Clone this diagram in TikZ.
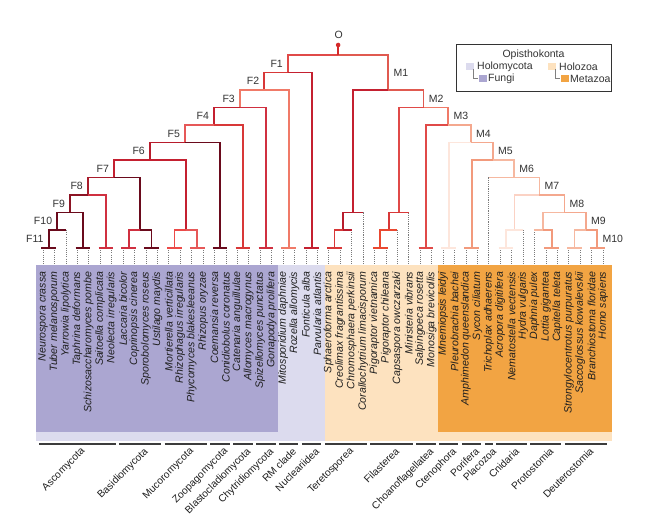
\documentclass[tikz,border=0pt]{standalone}
\usepackage{fontspec}
\setmainfont{Liberation Sans}
\usetikzlibrary{calc}
\definecolor{cFungi}{HTML}{ABA6D1}
\definecolor{cHolo}{HTML}{DCDBEE}
\definecolor{cHoloz}{HTML}{FDE2BF}
\definecolor{cMeta}{HTML}{F2A443}
\definecolor{kO}{HTML}{D42A2A}
\definecolor{k1}{HTML}{6A0A1C}
\definecolor{k2}{HTML}{8C1424}
\definecolor{k3}{HTML}{A81C2C}
\definecolor{k4}{HTML}{B81C2C}
\definecolor{k5}{HTML}{C42030}
\definecolor{k6}{HTML}{D03040}
\definecolor{k7}{HTML}{D83838}
\definecolor{k8}{HTML}{E04A48}
\definecolor{k9}{HTML}{E65858}
\definecolor{k10}{HTML}{EC4A48}
\definecolor{k11}{HTML}{F07A68}
\definecolor{k12}{HTML}{F29A7C}
\definecolor{k13}{HTML}{F4A88E}
\definecolor{k14}{HTML}{F6B8A0}
\definecolor{k15}{HTML}{FBD2C4}
\definecolor{k16}{HTML}{FDE6DC}
\definecolor{k17}{HTML}{EA4830}
\definecolor{k18}{HTML}{E05A50}
\definecolor{txt}{HTML}{1E1E1E}
\definecolor{lbl}{HTML}{333333}
\definecolor{dotc}{HTML}{7A7A7A}
\definecolor{grpc}{HTML}{3C3C3C}
\begin{document}
\begin{tikzpicture}[x=1pt,y=-1pt,
  br/.style={line width=1.8pt},
  leafdot/.style={dotc, line width=0.6pt, dash pattern=on 1.1pt off 1.1pt},
  sp/.style={rotate=90, anchor=east, inner sep=0pt, text=txt, font=\itshape\fontsize{10.6}{12}\selectfont},
  fl/.style={anchor=east, inner sep=0pt, xshift=-5pt, text=lbl, font=\fontsize{10.5}{12}\selectfont},
  ml/.style={anchor=west, inner sep=0pt, xshift=5pt, text=lbl, font=\fontsize{10.5}{12}\selectfont},
  grp/.style={rotate=45, anchor=north east, inner sep=0pt, text=txt, font=\fontsize{10.2}{12}\selectfont},
  grpline/.style={grpc, line width=2pt},
  legt/.style={inner sep=0pt, text=lbl, font=\fontsize{10.5}{12}\selectfont},
  swatch/.style={inner sep=0pt, minimum width=8pt, minimum height=7.5pt},
  brk/.style={gray, line width=0.5pt}]
\useasboundingbox (0,0) rectangle (650,526);

% background boxes
\fill[cHolo] (36,265) rectangle (325,441);
\fill[cFungi] (36,265) rectangle (278,432);
\fill[cHoloz] (325,265) rectangle (612,441);
\fill[cMeta] (438,265) rectangle (612,432);

% leaves
\foreach \i/\s in {1/Neurospora crassa, 2/Tuber melanosporum, 3/Yarrowia lipolytica,
 4/Taphrina deformans, 5/Schizosaccharomyces pombe, 6/Saitoella complicata,
 7/Neolecta irregularis, 8/Laccaria bicolor, 9/Coprinopsis cinerea,
 10/Sporobolomyces roseus, 11/Ustilago maydis, 12/Mortierella verticillata,
 13/Rhizophagus irregularis, 14/Phycomyces blakesleeanus, 15/Rhizopus oryzae,
 16/Coemansia reversa, 17/Conidiobolus coronatus, 18/Catenaria anguillulae,
 19/Allomyces macrogynus, 20/Spizellomyces punctatus, 21/Gonapodya prolifera,
 22/Mitosporidium daphniae, 23/Rozella allomycis, 24/Fonticula alba,
 25/Parvularia atlantis, 26/Sphaeroforma arctica, 27/Creolimax fragrantissima,
 28/Chromosphaera perkinsii, 29/Corallochytrium limacisporum, 30/Pigoraptor vietnamica,
 31/Pigoraptor chileana, 32/Capsaspora owczarzaki, 33/Ministeria vibrans,
 34/Salpingoeca rosetta, 35/Monosiga brevicollis, 36/Mnemiopsis leidyi,
 37/Pleurobrachia bachei, 38/Amphimedon queenslandica, 39/Sycon ciliatum,
 40/Trichoplax adhaerens, 41/Acropora digitifera, 42/Nematostella vectensis,
 43/Hydra vulgaris, 44/Daphnia pulex, 45/Lottia gigantea, 46/Capitella teleta,
 47/Strongylocentrotus purpuratus, 48/Saccoglossus kowalevskii,
 49/Branchiostoma floridae, 50/Homo sapiens} {
  \pgfmathsetmacro\xx{43+11.43*(\i-1)}
  \coordinate (t\i) at (\xx,248);
  \coordinate (b\i) at (\xx,265);
  \node[sp] (s\i) at (\xx,271.5) {\s};
}

% internal nodes
\coordinate (Odot) at (338.14,45);
\coordinate (O) at (338.14,55);
\coordinate (F1) at (287.98,72.5);
\coordinate (F2) at (264.36,90);
\coordinate (F3) at (239.97,107.5);
\coordinate (F4) at (214.05,125);
\coordinate (F5) at (185.07,142.5);
\coordinate (F6) at (149.98,160);
\coordinate (F7) at (114.08,177.5);
\coordinate (F8) at (88.01,195);
\coordinate (F9) at (70.15,212.5);
\coordinate (F10) at (57.29,230);
\coordinate (F11) at (48.715,248);
\coordinate (c45) at (83.005,248);
\coordinate (c67) at (105.865,248);
\coordinate (Bas) at (140.155,230);
\coordinate (c89) at (128.725,248);
\coordinate (c1011) at (151.585,248);
\coordinate (Muc) at (185.875,230);
\coordinate (c1213) at (174.445,248);
\coordinate (c1415) at (197.305,248);
\coordinate (c1617) at (220.165,248);
\coordinate (c1819) at (243.025,248);
\coordinate (c2021) at (265.885,248);
\coordinate (c2223) at (288.745,248);
\coordinate (c2425) at (311.605,248);
\coordinate (M1) at (388.30,90);
\coordinate (T2) at (353.04,212.5);
\coordinate (T1) at (343.04,230);
\coordinate (c2627) at (334.465,248);
\coordinate (M2) at (423.56,107.5);
\coordinate (Fa2) at (398.76,212.5);
\coordinate (Fa1) at (388.76,230);
\coordinate (c3031) at (380.185,248);
\coordinate (M3) at (448.36,125);
\coordinate (c3435) at (425.905,248);
\coordinate (M4) at (470.82,142.5);
\coordinate (c3637) at (448.765,248);
\coordinate (M5) at (492.88,160);
\coordinate (c3839) at (471.625,248);
\coordinate (M6) at (514.13,177.5);
\coordinate (M7) at (539.49,195);
\coordinate (Cn) at (514.49,230);
\coordinate (c4142) at (505.915,248);
\coordinate (M8) at (564.49,212.5);
\coordinate (Pr) at (543.06,230);
\coordinate (c4546) at (551.635,248);
\coordinate (M9) at (585.925,230);
\coordinate (c4748) at (574.495,248);
\coordinate (M10) at (597.355,248);

% dotted leaf lines
\foreach \i in {1,2,4,5,6,7,8,9,10,11,12,13,14,15,16,17,18,19,20,21,22,23,24,25,26,27,30,31,34,35,36,37,38,39,41,42,45,46,47,48,49,50}
  \draw[leafdot] (t\i) -- (b\i);
\draw[leafdot] (F10 -| t3) -- (b3);
\draw[leafdot] (T1 -| t28) -- (b28);
\draw[leafdot] (T2 -| t29) -- (b29);
\draw[leafdot] (Fa1 -| t32) -- (b32);
\draw[leafdot] (Fa2 -| t33) -- (b33);
\draw[leafdot] (M6 -| t40) -- (b40);
\draw[leafdot] (Cn -| t43) -- (b43);
\draw[leafdot] (Pr -| t44) -- (b44);

% elbows (parent -> child)
\foreach \p/\c/\col in {O/F1/k8, O/M1/k18,
  F1/F2/k7, F1/c2425/k5, F2/F3/k11, F2/c2223/k11,
  F3/F4/k5, F3/c2021/k6, F4/F5/k9, F4/c1819/k7,
  F5/F6/k4, F5/c1617/k1, F6/F7/k5, F6/Muc/k5,
  Muc/c1213/k10, Muc/c1415/k9, F7/F8/k3, F7/Bas/k1,
  Bas/c89/k6, Bas/c1011/k1, F8/F9/k2, F8/c67/k6,
  F9/F10/k1, F9/c45/k1, F10/F11/k1,
  M1/T2/k5, T2/T1/k4, T1/c2627/k7,
  M1/M2/k18, M2/Fa2/k8, Fa2/Fa1/k7, Fa1/c3031/k17,
  M2/M3/k11, M3/c3435/k8, M3/M4/k13, M4/c3637/k16,
  M4/M5/k13, M5/c3839/k12, M5/M6/k14, M6/M7/k14,
  M7/Cn/k15, Cn/c4142/k16, M7/M8/k13, M8/Pr/k14,
  Pr/c4546/k12, M8/M9/k13, M9/c4748/k14, M9/M10/k12}
  \draw[br,\col] (\p) -| (\c);

% half-bars to single (dotted) leaves
\draw[br,k1] (F10) -- (F10 -| t3);
\draw[br,k4] (T2) -- (T2 -| t29);
\draw[br,k4] (T1) -- (T1 -| t28);
\draw[br,k7] (Fa2) -- (Fa2 -| t33);
\draw[br,k17] (Fa1) -- (Fa1 -| t32);
\draw[br,k14] (M6) -- (M6 -| t40);
\draw[br,k16] (Cn) -- (Cn -| t43);
\draw[br,k14] (Pr) -- (Pr -| t44);

% terminal cherry bars
\foreach \a/\b/\col in {1/2/k1, 4/5/k1, 6/7/k6, 8/9/k6, 10/11/k1, 12/13/k10,
  14/15/k9, 16/17/k1, 18/19/k7, 20/21/k6, 22/23/k11, 24/25/k5,
  26/27/k7, 30/31/k17, 34/35/k8, 36/37/k16, 38/39/k12, 41/42/k16,
  45/46/k12, 47/48/k14, 49/50/k12}
  \draw[br,\col] ([xshift=-1.6pt]t\a) -- ([xshift=1.6pt]t\b);

% root
\draw[br,kO] (Odot) -- (O);
\fill[kO] (Odot) circle (2.3pt);
\node[text=lbl, font=\fontsize{10.5}{12}\selectfont, inner sep=0pt] (lO) at (338.6,35) {O};

% F labels
\foreach \n/\ys in {F1/8.75, F2/8.75, F3/8.75, F4/8.75, F5/8.75, F6/8.75,
  F7/8.75, F8/8.75, F9/8.75, F10/8.75, F11/9}
  \node[fl] (l\n) at ([yshift=\ys pt]\n) {\n};
% M labels
\node[ml] (lM1) at ([yshift=17.5pt]M1) {M1};
\foreach \n/\ys in {M2/8.75, M3/8.75, M4/8.75, M5/8.75, M6/8.75,
  M7/8.75, M8/8.75, M9/8.75, M10/9}
  \node[ml] (l\n) at ([yshift=\ys pt]\n) {\n};

% group bars and labels
\foreach \a/\b/\lab in {1/7/Ascomycota, 8/11/Basidiomycota, 12/15/Mucoromycota,
  16/17/Zoopagomycota, 18/19/Blastocladiomycota, 20/21/Chytridiomycota,
  22/23/RM clade, 24/25/Nucleariidea, 26/29/Teretosporea, 30/33/Filasterea,
  34/35/Choanoflagellatea, 36/37/Ctenophora, 38/39/Porifera, 40/40/Placozoa,
  41/43/Cnidaria, 44/46/Protostomia, 47/50/Deuterostomia} {
  \pgfmathsetmacro\xa{43+11.43*(\a-1)-4}
  \pgfmathsetmacro\xb{43+11.43*(\b-1)+4}
  \pgfmathsetmacro\xc{(\xa+\xb)/2+3}
  \coordinate (ga\a) at (\xa,443.5);
  \coordinate (gb\a) at (\xb,443.5);
  \draw[grpline] (ga\a) -- (gb\a);
  \node[grp] (gl\a) at (\xc,446.5) {\lab};
}

% legend
\draw[lbl, line width=0.7pt, fill=white] (456,44) rectangle (611,91);
\node[legt] (lgT) at (533.5,55) {Opisthokonta};
\node[swatch, fill=cHolo] (sw1) at (470,66.5) {};
\node[legt, anchor=west] (lg1) at (477,66.5) {Holomycota};
\node[swatch, fill=cHoloz] (sw2) at (552,66.5) {};
\node[legt, anchor=west] (lg2) at (559,66.5) {Holozoa};
\node[swatch, fill=cFungi] (sw3) at (482.5,78.5) {};
\node[legt, anchor=west] (lg3) at (488,78.5) {Fungi};
\node[swatch, fill=cMeta] (sw4) at (564.5,78.5) {};
\node[legt, anchor=west] (lg4) at (570,78.5) {Metazoa};
\draw[brk] (sw1.south east) ++(-1pt,1.5pt) |- (sw3.west);
\draw[brk] (sw2.south east) ++(-1pt,1.5pt) |- (sw4.west);
\end{tikzpicture}
\end{document}
